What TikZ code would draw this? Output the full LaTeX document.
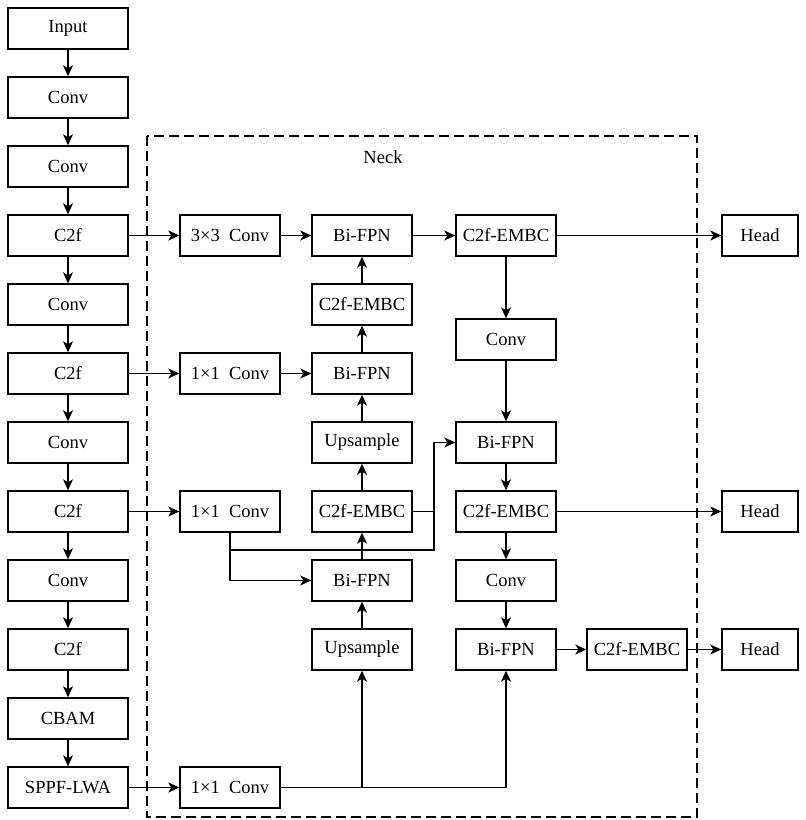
\documentclass[tikz,border=0pt]{standalone}
\usepackage{fontspec}
\setmainfont{Liberation Serif}
\usetikzlibrary{arrows.meta}
\begin{document}
\begin{tikzpicture}[x=1pt,y=-1pt,
  box/.style={draw,line width=1.4pt,minimum height=41pt,inner sep=0pt,font=\fontsize{18.5}{21}\selectfont},
  lbox/.style={box,minimum width=120pt},
  mbox/.style={box,minimum width=100pt},
  hbox/.style={box,minimum width=76pt},
  arr/.style={line width=1.4pt,-{Stealth[length=11pt,width=10pt,inset=3pt]}},
  ln/.style={line width=1.4pt}]
\useasboundingbox (0,0) rectangle (806,820);
% dashed neck frame
\draw[line width=1.4pt,dash pattern=on 10pt off 5pt] (147,136) rectangle (697,817);
\node[font=\fontsize{18.5}{21}\selectfont] (necklbl) at (383,157) {Neck};
% backbone
\node[lbox] (b0) at (68,28.5) {Input};
\node[lbox] (b1) at (68,97.5) {Conv};
\node[lbox] (b2) at (68,166.5) {Conv};
\node[lbox] (b3) at (68,235.5) {C2f};
\node[lbox] (b4) at (68,304.5) {Conv};
\node[lbox] (b5) at (68,373.5) {C2f};
\node[lbox] (b6) at (68,442.5) {Conv};
\node[lbox] (b7) at (68,511.5) {C2f};
\node[lbox] (b8) at (68,580.5) {Conv};
\node[lbox] (b9) at (68,649.5) {C2f};
\node[lbox] (b10) at (68,718.5) {CBAM};
\node[lbox] (b11) at (68,787.5) {SPPF-LWA};
\foreach \a/\b in {b0/b1,b1/b2,b2/b3,b3/b4,b4/b5,b5/b6,b6/b7,b7/b8,b8/b9,b9/b10,b10/b11}
  \draw[arr] (\a) -- (\b);
% column 2
\node[mbox] (k1) at (230,235.5) {3×3~~Conv};
\node[mbox] (k2) at (230,373.5) {1×1~~Conv};
\node[mbox] (k3) at (230,511.5) {1×1~~Conv};
\node[mbox] (k4) at (230,787.5) {1×1~~Conv};
% column 3
\node[mbox] (f1) at (362,235.5) {Bi-FPN};
\node[mbox] (e1) at (362,304.5) {C2f-EMBC};
\node[mbox] (f2) at (362,373.5) {Bi-FPN};
\node[mbox] (u1) at (362,442.5) {Upsample};
\node[mbox] (e2) at (362,511.5) {C2f-EMBC};
\node[mbox] (f3) at (362,580.5) {Bi-FPN};
\node[mbox] (u2) at (362,649.5) {Upsample};
% column 4
\node[mbox] (e3) at (506,235.5) {C2f-EMBC};
\node[mbox] (c1) at (506,339.5) {Conv};
\node[mbox] (f4) at (506,442.5) {Bi-FPN};
\node[mbox] (e4) at (506,511.5) {C2f-EMBC};
\node[mbox] (c2) at (506,580.5) {Conv};
\node[mbox] (f5) at (506,649.5) {Bi-FPN};
% column 5
\node[mbox] (e5) at (637,649.5) {C2f-EMBC};
% heads
\node[hbox] (h1) at (760,235.5) {Head};
\node[hbox] (h2) at (760,511.5) {Head};
\node[hbox] (h3) at (760,649.5) {Head};
% top row
\draw[arr] (b3) -- (k1);
\draw[arr] (k1) -- (f1);
\draw[arr] (f1) -- (e3);
\draw[arr] (e3) -- (h1);
% right column chain
\draw[arr] (e3) -- (c1);
\draw[arr] (c1) -- (f4);
\draw[arr] (f4) -- (e4);
\draw[arr] (e4) -- (c2);
\draw[arr] (c2) -- (f5);
\draw[arr] (f5) -- (e5);
\draw[arr] (e5) -- (h3);
\draw[arr] (e4) -- (h2);
% middle column chain
\draw[arr] (b5) -- (k2);
\draw[arr] (k2) -- (f2);
\draw[arr] (f2) -- (e1);
\draw[arr] (e1) -- (f1);
\draw[arr] (u1) -- (f2);
\draw[arr] (e2) -- (u1);
\draw[arr] (b7) -- (k3);
\draw[arr] (f3) -- (e2);
\draw[arr] (u2) -- (f3);
% cross links
\coordinate (ja) at (230,550);
\coordinate (jb) at (434,550);
\coordinate (jc) at (434,511.5);
\draw[arr] (k3.south) |- (f3.west);
\draw[ln] (ja) -- (jb) -- (jc);
\draw[arr] (jc) |- (f4.west);
\draw[ln] (e2.east) -- (jc);
% bottom
\draw[arr] (b11) -- (k4);
\draw[arr] (k4.east) -| (f5.south);
\draw[arr] (k4.east -| u2.south) -- (u2.south);
\end{tikzpicture}
\end{document}
